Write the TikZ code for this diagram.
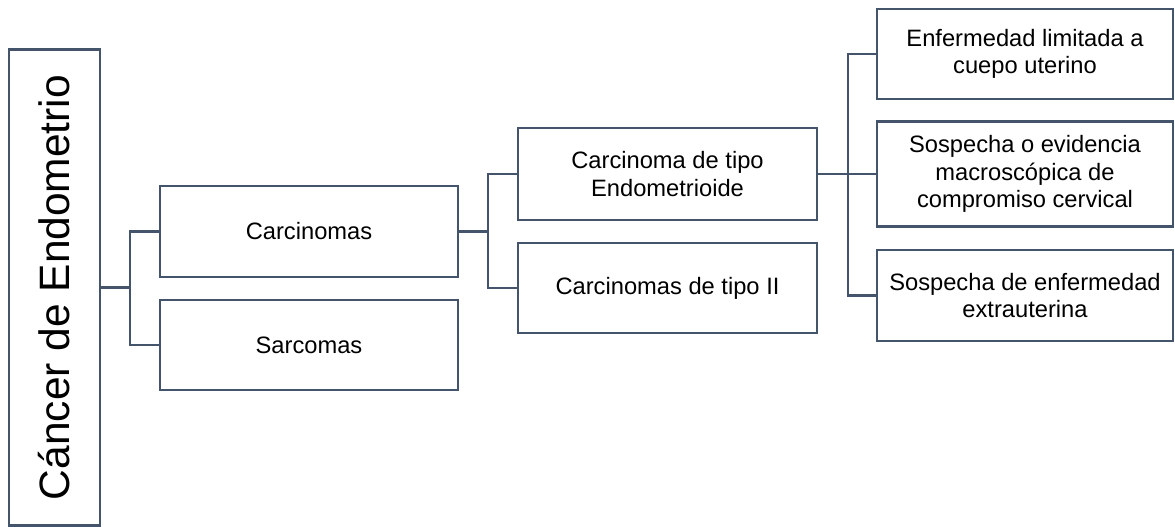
\documentclass[tikz,border=0pt]{standalone}
\usepackage{fontspec}
\setmainfont{Liberation Sans}
\definecolor{lc}{HTML}{44546A}
\begin{document}
\begin{tikzpicture}[x=1pt,y=-1pt,
  box/.style={draw=lc, line width=2.2pt, fill=white, align=center, inner sep=0pt, text=black,
    font=\fontsize{23.7}{27.5}\selectfont},
  conn/.style={draw=lc, line width=2.4pt}]
\useasboundingbox (0,0) rectangle (1175,527);
\node[box, minimum width=91pt, minimum height=476pt] (main) at (54.5,287.5)
  {\rotatebox{90}{\fontsize{42.5}{42.5}\selectfont C\'ancer de Endometrio}};
\node[box, minimum width=298pt, minimum height=91pt] (carc) at (309,231.5) {Carcinomas};
\node[box, minimum width=298pt, minimum height=90pt] (sarc) at (309,345) {Sarcomas};
\node[box, minimum width=299pt, minimum height=92pt] (endo) at (667.5,174) {Carcinoma de tipo\\Endometrioide};
\node[box, minimum width=299pt, minimum height=90pt] (tii) at (667.5,288) {Carcinomas de tipo II};
\node[box, minimum width=296pt, minimum height=90pt] (r1) at (1025,54) {Enfermedad limitada a\\cuepo uterino};
\node[box, minimum width=296pt, minimum height=105pt] (r2) at (1025,174) {Sospecha o evidencia\\macrosc\'opica de\\compromiso cervical};
\node[box, minimum width=296pt, minimum height=91pt] (r3) at (1025,295.5) {Sospecha de enfermedad\\extrauterina};
\coordinate (j1) at (130,287.5);
\coordinate (j2) at (488,231.5);
\coordinate (j3) at (848,174);
\draw[conn] (main.east) -- (j1);
\draw[conn] (j1) |- (carc.west);
\draw[conn] (j1) |- (sarc.west);
\draw[conn] (carc.east) -- (j2);
\draw[conn] (j2) |- (endo.west);
\draw[conn] (j2) |- (tii.west);
\draw[conn] (endo.east) -- (j3);
\draw[conn] (j3) |- (r1.west);
\draw[conn] (j3) |- (r2.west);
\draw[conn] (j3) |- (r3.west);
\end{tikzpicture}
\end{document}
